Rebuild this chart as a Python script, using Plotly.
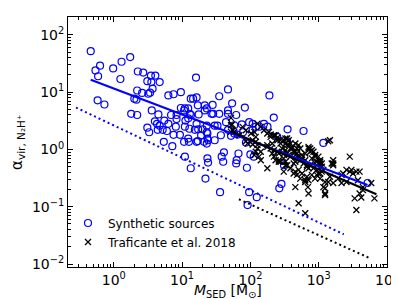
import plotly.graph_objects as go

# ---- data (M_SED in M_sun, alpha_vir) ----
synthetic_mass = [
    0.46, 0.54, 0.63, 0.59, 0.98, 1.3, 1.74, 1.25, 2.25, 2.7, 3.5, 4.06, 3.1, 3.55, 4.7,
    3.7, 3.4, 3.2, 2.2, 2.6, 2.0, 2.15, 0.58, 0.73, 6.3, 7.5, 9.6, 3.6, 1.8, 2.2,
    4.5, 6.9, 8.3, 9.6, 10.7, 4.0, 4.3, 4.7, 5.5, 6.3, 8.3, 8.1, 3.1, 3.3, 4.4,
    5.2, 6.0, 7.5, 10.7, 7.2, 11, 11.2, 9.3, 12.8, 16, 13.4, 14.5, 16.3, 35, 47,
    54, 190, 83, 220, 11, 12.3, 17, 21.5, 23, 21.5, 27, 28.5, 35, 47, 47,
    62, 13, 13.5, 17.5, 12.3, 16.3, 15.4, 17.2, 11, 23, 30, 33, 44, 23, 23.5,
    23.5, 24, 17, 12.3, 20, 47, 58, 78, 96, 108, 75, 108, 30, 16.3, 21,
    13.4, 23.5, 24, 38, 41, 40, 62, 63, 67, 89, 100, 112, 22, 36, 96,
    124, 91, 265, 285, 310, 5200, 350, 600, 1170, 23, 86, 65, 37, 52, 247,
    345, 120, 135, 158, 178, 58, 28, 5.4, 12.6, 19,
]
synthetic_alpha = [
    52, 24, 29, 19, 26, 34, 41, 17, 23, 22, 19.5, 19.5, 15.6, 15, 15,
    11.5, 9.8, 9.4, 10.7, 9.7, 7.7, 7.4, 7.2, 6.1, 8.8, 9.2, 10, 4.8, 4.2, 4.0,
    4.1, 4.0, 4.0, 5.3, 4.8, 3.1, 2.8, 2.6, 3.2, 2.8, 3.4, 2.5, 2.4, 2.0, 2.2,
    2.2, 2.1, 1.8, 1.36, 1.14, 0.75, 3.2, 1.8, 2.3, 18, 7.7, 7.7, 8.1, 8.5, 11.2,
    6.4, 8.8, 5.4, 3.6, 5.2, 5.2, 5.9, 5.9, 5.2, 4.8, 4.2, 4.2, 4.2, 4.8, 4.2,
    4.0, 4.2, 4.0, 4.1, 3.5, 2.8, 2.2, 2.25, 2.5, 2.6, 2.6, 2.6, 3.0, 2.0, 1.9,
    1.55, 1.45, 1.4, 1.55, 2.25, 2.2, 1.9, 2.0, 3.0, 2.8, 2.75, 2.2, 1.45, 1.36, 1.36,
    0.47, 0.70, 0.59, 0.75, 0.89, 0.61, 0.57, 0.65, 0.85, 0.48, 0.82, 0.75, 0.31, 0.18, 0.18,
    0.147, 0.107, 0.21, 0.25, 0.53, 0.26, 2.25, 2.1, 1.3, 1.27, 1.32, 1.82, 1.77, 1.73, 1.66,
    1.39, 2.5, 2.5, 2.8, 2.5, 2.65, 6.0, 1.36, 1.36, 1.77,
]

traficante_mass = [
    54, 52, 58, 114, 177, 198, 221, 248, 276, 308, 345, 86, 91, 120, 127,
    142, 134, 177, 198, 221, 209, 177, 326, 365, 386, 408, 455, 482, 326, 345,
    365, 386, 308, 326, 430, 482, 508, 538, 569, 635, 673, 710, 455, 482, 430,
    635, 695, 751, 838, 887, 990, 1050, 1110, 1170, 751, 838, 938, 1050, 887, 938,
    1050, 1170, 1240, 1380, 1630, 1550, 1630, 1630, 1930, 2160, 2280, 2550, 2850, 3010, 2850,
    3560, 3970, 3970, 4440, 3360, 3560, 5870, 6550, 508, 635, 1460, 455, 710,
    261, 326, 308, 386, 455, 508, 569, 538, 673, 794, 710, 990, 1110, 1240, 1460,
    3180, 2160, 2550, 3760, 4440, 635, 1240, 1240, 4200, 1050, 866,
    326, 365, 345, 386, 292, 261, 308, 408, 455, 508, 538, 482, 569, 635, 710,
    751, 794, 887, 938, 1050, 1110, 1380, 1630, 234, 248, 276, 234, 276, 345, 430,
    601, 673,
    52, 52, 55, 77, 86, 102, 127, 142, 158, 187, 198, 209, 120, 108,
    120, 142, 221, 248, 261, 127,
    69, 108, 114, 177, 794, 710,
]
traficante_alpha = [
    2.72, 2.03, 2.03, 2.03, 1.90, 1.82, 1.77, 1.60, 1.45, 1.45, 1.55, 1.39, 1.27, 1.36, 1.04,
    0.91, 0.75, 1.11, 1.04, 0.97, 0.85, 0.47, 1.27, 1.19, 1.04, 1.11, 1.27, 1.04, 0.97, 0.85,
    0.80, 0.75, 0.70, 0.61, 0.91, 0.85, 0.75, 0.65, 0.70, 0.65, 0.53, 0.47, 0.41, 0.36, 0.38,
    0.29, 0.22, 1.04, 0.91, 0.80, 0.75, 0.57, 0.50, 0.44, 0.53, 0.47, 0.44, 0.38, 0.31, 0.36,
    0.31, 0.22, 0.17, 0.27, 0.26, 0.57, 0.65, 0.53, 0.31, 0.36, 0.38, 0.44, 0.41, 0.44, 0.75,
    0.41, 0.41, 0.17, 0.196, 0.14, 0.088, 0.26, 0.14, 0.115, 0.077, 1.45, 0.22, 0.17,
    0.61, 0.53, 0.41, 0.47, 0.61, 0.44, 0.38, 0.31, 0.335, 0.36, 0.29, 0.38, 0.41, 0.27, 0.335,
    0.38, 0.26, 0.27, 0.29, 0.22, 0.27, 0.21, 0.16, 0.145, 0.61, 0.59,
    1.55, 1.45, 1.19, 1.27, 1.04, 0.85, 0.85, 1.04, 0.91, 1.19, 1.04, 0.75, 0.80, 0.85, 1.04,
    0.91, 0.70, 0.75, 0.61, 0.65, 0.57, 1.39, 0.57, 1.77, 1.45, 1.27, 0.65, 0.61, 0.53, 0.57,
    0.57, 0.50,
    3.56, 2.65, 2.17, 2.48, 2.17, 1.90, 2.83, 2.48, 2.17, 2.03, 1.66, 1.27, 1.66, 1.45,
    0.91, 0.65, 0.75, 0.91, 0.65, 1.19,
    1.77, 1.22, 0.80, 1.19, 0.97, 1.11,
]

# fitted relations (end points)
synthetic_fit_mass = [0.46, 5190]
synthetic_fit_alpha = [16.5, 0.24]
synthetic_offset_mass = [0.28, 2330]
synthetic_offset_alpha = [5.4, 0.033]
traficante_fit_mass = [52, 7000]
traficante_fit_alpha = [2.06, 0.165]
traficante_offset_mass = [68, 5550]
traficante_offset_alpha = [0.135, 0.0127]

x_tick_vals = [1, 10, 100, 1000, 10000]
x_tick_text = ["10<sup>0</sup>", "10<sup>1</sup>", "10<sup>2</sup>", "10<sup>3</sup>", "10<sup>4</sup>"]
y_tick_vals = [0.01, 0.1, 1, 10, 100]
y_tick_text = ["10<sup>\u22122</sup>", "10<sup>\u22121</sup>", "10<sup>0</sup>", "10<sup>1</sup>", "10<sup>2</sup>"]

x_title = "<i>M</i><sub>SED</sub> [M<sub>\u2299</sub>]"
y_title = "\u03b1<sub>vir, N\u2082H\u207a</sub>"

BLUE = "#0000ff"
FONT = "DejaVu Sans"

fig = go.Figure()
fig.add_trace(go.Scatter(
    x=synthetic_mass, y=synthetic_alpha, mode="markers", name="Synthetic sources",
    marker=dict(symbol="circle-open", size=7, color=BLUE, line=dict(width=1.2, color=BLUE)),
))
fig.add_trace(go.Scatter(
    x=traficante_mass, y=traficante_alpha, mode="markers", name="Traficante et al. 2018",
    marker=dict(symbol="x-thin-open", size=6, color="black", line=dict(width=1.3, color="black")),
))
fig.add_trace(go.Scatter(x=synthetic_fit_mass, y=synthetic_fit_alpha, mode="lines",
                         line=dict(color=BLUE, width=2), showlegend=False))
fig.add_trace(go.Scatter(x=synthetic_offset_mass, y=synthetic_offset_alpha, mode="lines",
                         line=dict(color=BLUE, width=2, dash="2px,3px"), showlegend=False))
fig.add_trace(go.Scatter(x=traficante_fit_mass, y=traficante_fit_alpha, mode="lines",
                         line=dict(color="black", width=2), showlegend=False))
fig.add_trace(go.Scatter(x=traficante_offset_mass, y=traficante_offset_alpha, mode="lines",
                         line=dict(color="black", width=2, dash="2px,3px"), showlegend=False))

axis_common = dict(
    type="log", showgrid=False, zeroline=False, showline=True, linecolor="black", linewidth=1,
    mirror="allticks", ticks="inside", ticklen=5, tickwidth=1, tickcolor="black",
    tickfont=dict(family=FONT, size=14, color="black"),
    minor=dict(ticks="inside", ticklen=3, tickwidth=0.8, tickcolor="black", dtick="D1", showgrid=False),
)

fig.update_xaxes(
    **axis_common, range=[-0.67, 4.0], tickmode="array", tickvals=x_tick_vals, ticktext=x_tick_text,
)
fig.update_yaxes(
    **axis_common, range=[-2.052, 2.313], tickmode="array", tickvals=y_tick_vals, ticktext=y_tick_text,
)

fig.add_annotation(text=x_title, xref="paper", yref="paper", x=0.5, y=-0.097,
                   xanchor="center", yanchor="middle", showarrow=False,
                   font=dict(family=FONT, size=14, color="black"))
fig.add_annotation(text=y_title, xref="paper", yref="paper", x=-0.16, y=0.5, textangle=-90,
                   xanchor="center", yanchor="middle", showarrow=False,
                   font=dict(family=FONT, size=15, color="black"))

fig.update_layout(
    width=399, height=299,
    margin=dict(l=60, r=16, t=8, b=40),
    plot_bgcolor="white", paper_bgcolor="white",
    font=dict(family=FONT, color="black"),
    legend=dict(x=0.0, y=0.042, xanchor="left", yanchor="bottom", bgcolor="rgba(0,0,0,0)",
                font=dict(family=FONT, size=12, color="black"), itemwidth=30, tracegroupgap=0),
)

fig.write_html("out.html")
